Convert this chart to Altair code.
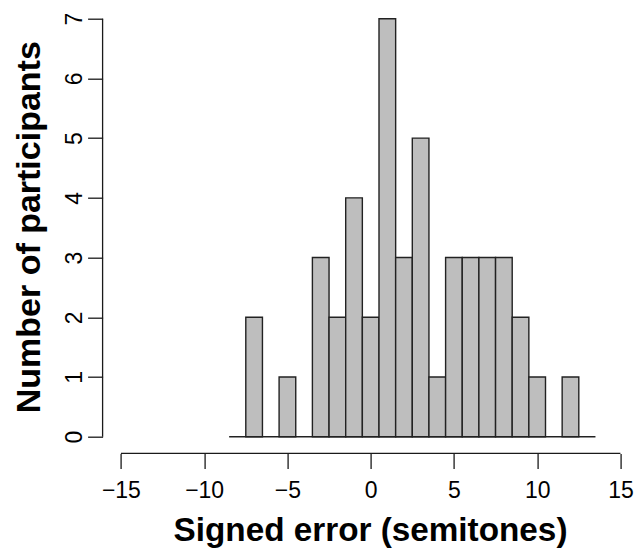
import altair as alt
import pandas as pd

# ---- data (bins of width 1 centred on integers)
bin_centers = [-8, -7, -6, -5, -4, -3, -2, -1, 0, 1, 2, 3, 4, 5, 6, 7, 8, 9, 10, 11, 12, 13]
counts = [0, 2, 0, 1, 0, 3, 2, 4, 2, 7, 3, 5, 1, 3, 3, 3, 3, 2, 1, 0, 1, 0]
bin_width = 1.0
x_ticks = [-15, -10, -5, 0, 5, 10, 15]
y_ticks = [0, 1, 2, 3, 4, 5, 6, 7]
x_title = "Signed error (semitones)"
y_title = "Number of participants"

# ---- layout
W, H = 524.5, 434.7
X_DOMAIN = [-16.1, 15.4]
Y_DOMAIN = [-0.28, 7]
FONT = "Liberation Sans"

bars = pd.DataFrame({
    "start": [c - bin_width / 2 for c in bin_centers],
    "end": [c + bin_width / 2 for c in bin_centers],
    "count": counts,
})
bars["zero"] = 0
filled = bars[bars["count"] > 0]

xs = alt.Scale(domain=X_DOMAIN, nice=False, zero=False)
ys = alt.Scale(domain=Y_DOMAIN, nice=False, zero=False)

x_axis = alt.Axis(
    values=x_ticks, tickSize=15, tickWidth=1.3, tickColor="#1a1a1a",
    domain=False, grid=False,
    labelFontSize=23, labelFont=FONT, labelColor="#000", labelPadding=11,
    labelFlush=False, labelOverlap=False,
    title=x_title, titleFont=FONT, titleFontSize=33.3, titleFontWeight="bold",
    titleColor="#000", titleX=267.4, titleY=87.5, titleAlign="center",
    titleBaseline="alphabetic", titleAnchor="middle",
)
y_axis = alt.Axis(
    values=y_ticks, tickSize=15, tickWidth=1.3, tickColor="#1a1a1a",
    domain=False, grid=False,
    labelFontSize=23, labelFont=FONT, labelColor="#000", labelPadding=6,
    labelAngle=270, labelAlign="center", labelBaseline="alphabetic",
    labelFlush=False, labelOverlap=False,
    title=y_title, titleFont=FONT, titleFontSize=34, titleFontWeight="bold",
    titleColor="#000", titleX=-62.6, titleY=208, titleAngle=270,
    titleAlign="center", titleBaseline="alphabetic", titleAnchor="middle",
)

bar_layer = alt.Chart(filled).mark_rect(
    fill="#BEBEBE", stroke="#222", strokeWidth=1.4
).encode(
    x=alt.X("start:Q", scale=xs, axis=x_axis),
    x2="end:Q",
    y=alt.Y("count:Q", scale=ys, axis=y_axis),
    y2="zero:Q",
)

base_df = pd.DataFrame({"x": [bars["start"].min()], "x2": [bars["end"].max()], "y": [0]})
baseline = alt.Chart(base_df).mark_rule(color="#222", strokeWidth=1.4).encode(
    x=alt.X("x:Q", scale=xs, axis=x_axis),
    x2="x2:Q",
    y=alt.Y("y:Q", scale=ys, axis=y_axis),
)

yline_df = pd.DataFrame({"y": [min(y_ticks)], "y2": [max(y_ticks)]})
y_line = alt.Chart(yline_df).mark_rule(color="#1a1a1a", strokeWidth=1.3).encode(
    x=alt.value(0),
    y=alt.Y("y:Q", scale=ys, axis=y_axis),
    y2="y2:Q",
)

xline_df = pd.DataFrame({"x": [min(x_ticks)], "x2": [max(x_ticks)]})
x_line = alt.Chart(xline_df).mark_rule(color="#1a1a1a", strokeWidth=1.3).encode(
    x=alt.X("x:Q", scale=xs, axis=x_axis),
    x2="x2:Q",
    y=alt.value(H),
)

chart = alt.layer(baseline, bar_layer, y_line, x_line).properties(
    width=W, height=H,
    padding={"left": 94.6, "top": 10.7, "right": 7, "bottom": 95.6},
    autosize=alt.AutoSizeParams(type="none"),
    background="white",
).configure_view(stroke=None)

chart.save("out.html", embed_options={"renderer": "svg", "actions": False})
